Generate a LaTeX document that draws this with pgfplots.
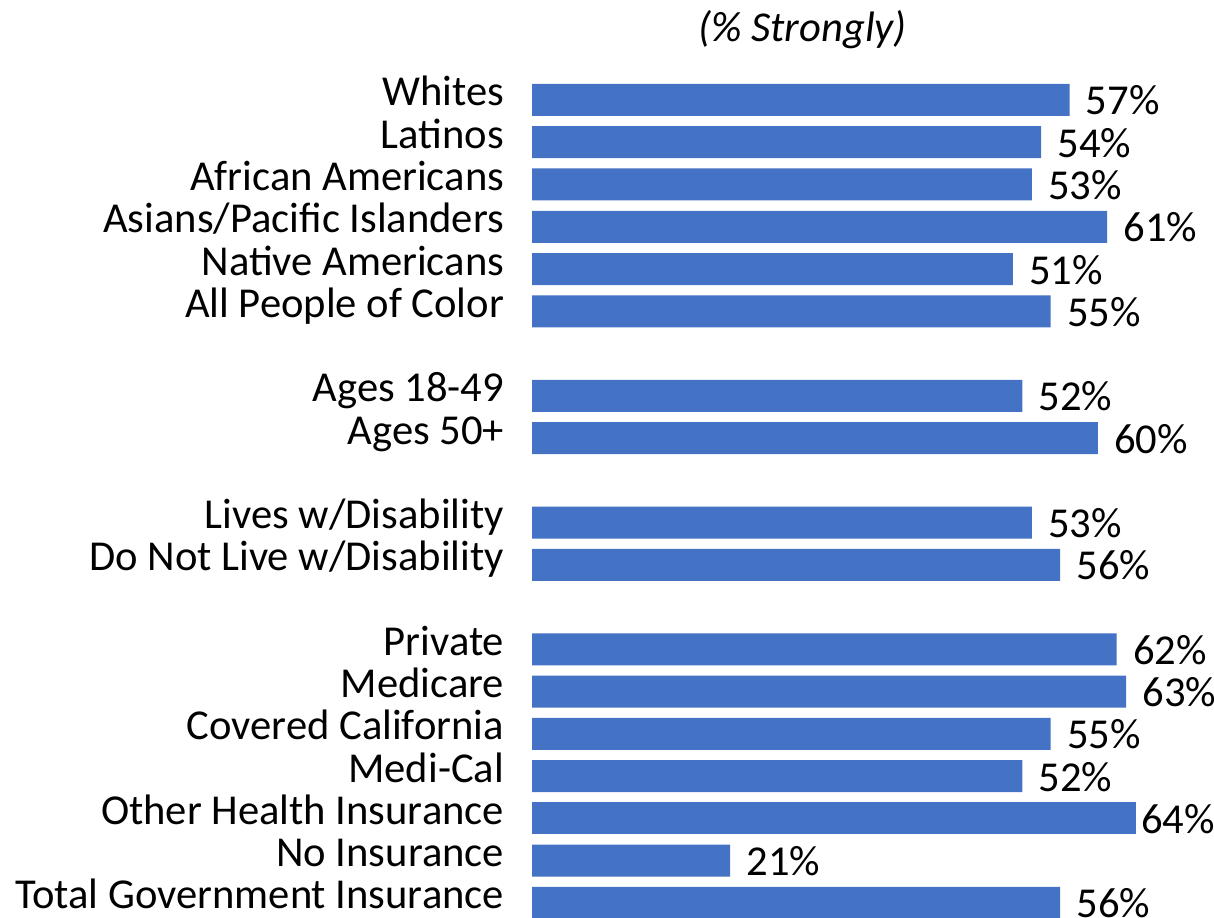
\documentclass[border=0pt]{standalone}
\usepackage{fontspec}
\setmainfont{Carlito}
\usepackage{pgfplots}
\pgfplotsset{compat=1.18}
\definecolor{barblue}{HTML}{4472C4}
\newcommand{\lblfont}{\fontsize{21.3}{25}\selectfont}
\begin{document}
\begin{tikzpicture}[font=\lblfont]
\begin{axis}[
  xbar, bar width=16pt, bar shift=0pt,
  x=4.715pt, y=21.13pt, y dir=reverse,
  xmin=0, xmax=72.32, ymin=-2.366, ymax=19.357,
  enlargelimits=false, clip=false,
  axis line style={draw=none},
  major tick length=0pt,
  xtick=\empty,
  ytick={0,1,2,3,4,5,7,8,10,11,13,14,15,16,17,18,19},
  yticklabels={Whites,Latinos,African Americans,Asians/Pacific Islanders,Native Americans,All People of Color,Ages 18-49,Ages 50+,Lives w/Disability,Do Not Live w/Disability,Private,Medicare,Covered California,Medi-Cal,Other Health Insurance,No Insurance,Total Government Insurance},
  yticklabel style={font=\lblfont, anchor=base east, inner sep=0pt, xshift=-13.8pt, yshift=-3pt},
  point meta=x,
  nodes near coords={\pgfmathprintnumber[assume math mode=true]{\pgfplotspointmeta}\%},
]
\addplot[fill=barblue, draw=none,
  nodes near coords style={font=\lblfont, anchor=base west, inner sep=0pt, xshift=8pt, yshift=-7.5pt, text=black}] coordinates {
(57,0) (54,1) (53,2) (61,3) (51,4) (55,5)
(52,7) (60,8)
(53,10) (56,11)
(62,13) (63,14) (55,15) (52,16) (21,18) (56,19)
};
\addplot[fill=barblue, draw=none,
  nodes near coords style={font=\lblfont, anchor=base west, inner sep=0pt, xshift=2.6pt, yshift=-7.5pt, text=black}] coordinates {
(64,17)
};
\node[font=\lblfont\itshape] at (axis cs:28.7,-1.66) {(\% Strongly)};
\coordinate (bl) at (axis cs:-56.42,19.357);
\coordinate (tr) at (axis cs:72.32,-2.366);
\end{axis}
\pgfresetboundingbox
\useasboundingbox (bl) rectangle (tr);
\end{tikzpicture}
\end{document}
